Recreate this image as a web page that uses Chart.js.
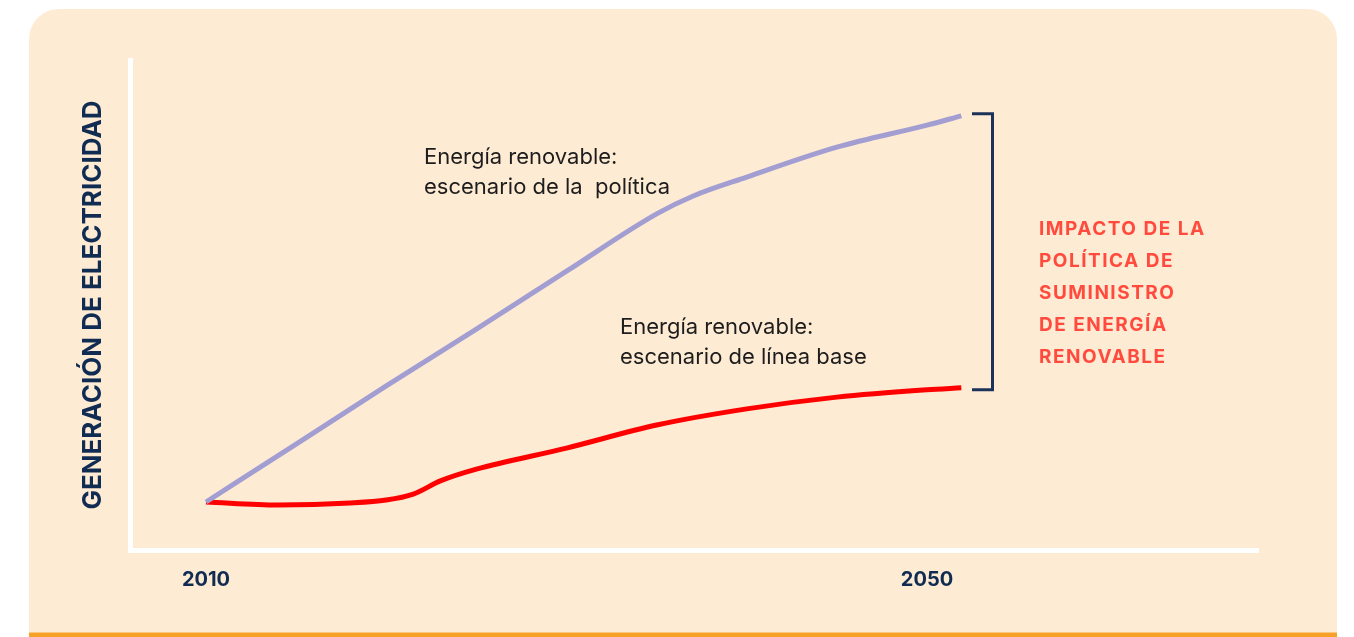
<!DOCTYPE html>
<html>
<head>
<meta charset="utf-8">
<script src="https://cdn.jsdelivr.net/npm/chart.js@4/dist/chart.umd.min.js"></script>
<style>
  html, body { margin: 0; padding: 0; background: #ffffff; }
  canvas { display: block; }
</style>
</head>
<body>
<canvas id="c" width="1354" height="637"></canvas>
<script>
// ---- data ----
const policyYears    = [2010, 2015, 2020, 2025, 2030, 2035, 2037, 2040, 2045, 2050, 2051.9];
const policyValues   = [9.8, 21.6, 33.5, 45.1, 56.9, 68.6, 72.2, 76.1, 82.2, 86.7, 88.6];
const baselineYears  = [2010, 2014, 2018, 2020, 2021.5, 2023, 2025, 2030, 2035, 2040, 2045, 2050, 2051.9];
const baselineValues = [9.8, 9.2, 9.6, 10.2, 11.4, 14.1, 16.5, 20.8, 25.5, 28.8, 31.2, 32.7, 33.1];
const tickYears      = [2010, 2050];
const yAxisTitle     = 'GENERACIÓN DE ELECTRICIDAD';
const policyLabel    = ['Energía renovable:', 'escenario de la  política'];
const baselineLabel  = ['Energía renovable:', 'escenario de línea base'];
const impactLabel    = ['IMPACTO DE LA', 'POLÍTICA DE', 'SUMINISTRO', 'DE ENERGÍA', 'RENOVABLE'];

const NAVY = '#112c52';
const PANEL = '#feebd4';

const panelPlugin = {
  id: 'panel',
  beforeDraw(chart) {
    const ctx = chart.ctx;
    ctx.save();
    ctx.fillStyle = '#ffffff';
    ctx.fillRect(0, 0, chart.width, chart.height);
    const x0 = 29, y0 = 9, x1 = 1337, y1 = 637, r = 30;
    ctx.beginPath();
    ctx.moveTo(x0, y1);
    ctx.lineTo(x0, y0 + r);
    ctx.arcTo(x0, y0, x0 + r, y0, r);
    ctx.lineTo(x1 - r, y0);
    ctx.arcTo(x1, y0, x1, y0 + r, r);
    ctx.lineTo(x1, y1);
    ctx.closePath();
    ctx.fillStyle = PANEL;
    ctx.fill();
    ctx.fillStyle = '#f7a226';
    ctx.fillRect(x0, 632.5, x1 - x0, 5);
    ctx.restore();
  }
};

const annotPlugin = {
  id: 'annot',
  afterDatasetsDraw(chart) {
    const ctx = chart.ctx;
    const ys = chart.scales.y;
    ctx.save();
    // series labels
    ctx.fillStyle = '#1d1d1d';
    ctx.font = '400 22px Inter, "Noto Sans", sans-serif';
    ctx.textBaseline = 'alphabetic';
    ctx.textAlign = 'left';
    policyLabel.forEach((t, i) => ctx.fillText(t, 424, 164 + i * 30));
    baselineLabel.forEach((t, i) => ctx.fillText(t, 620, 334 + i * 30));

    // bracket
    const topY = ys.getPixelForValue(policyValues[policyValues.length - 1]) - 2;
    const botY = ys.getPixelForValue(baselineValues[baselineValues.length - 1]) + 2;
    const bx = 992.5;
    ctx.strokeStyle = '#1b3358';
    ctx.lineWidth = 3;
    ctx.lineJoin = 'miter';
    ctx.beginPath();
    ctx.moveTo(972, topY);
    ctx.lineTo(bx, topY);
    ctx.lineTo(bx, botY);
    ctx.lineTo(972, botY);
    ctx.stroke();

    // impact text
    ctx.fillStyle = '#ff4a3d';
    ctx.font = '700 19px Inter, "Noto Sans", sans-serif';
    try { ctx.letterSpacing = '1.5px'; } catch (e) {}
    impactLabel.forEach((t, i) => ctx.fillText(t, 1039, 235 + i * 32));
    ctx.restore();
  }
};

new Chart(document.getElementById('c'), {
  type: 'line',
  data: {
    datasets: [
      {
        label: 'policy',
        data: policyYears.map((x, i) => ({ x, y: policyValues[i] })),
        borderColor: '#a39ed2',
        borderWidth: 5,
        pointRadius: 0,
        cubicInterpolationMode: 'monotone',
        fill: false
      },
      {
        label: 'baseline',
        data: baselineYears.map((x, i) => ({ x, y: baselineValues[i] })),
        borderColor: '#ff0000',
        borderWidth: 5,
        pointRadius: 0,
        cubicInterpolationMode: 'monotone',
        fill: false
      }
    ]
  },
  options: {
    responsive: false,
    animation: false,
    devicePixelRatio: 1,
    layout: { padding: { left: 0, right: 96, top: 60, bottom: 37 } },
    plugins: { legend: { display: false }, tooltip: { enabled: false } },
    scales: {
      x: {
        type: 'linear',
        min: 2005.784,
        max: 2068.36,
        grid: { display: true, color: 'rgba(0,0,0,0)', drawTicks: false },
        border: { display: true, color: '#ffffff', width: 5 },
        afterBuildTicks: s => { s.ticks = tickYears.map(v => ({ value: v })); },
        afterFit: s => { s.height = 50; },
        ticks: {
          autoSkip: false,
          maxRotation: 0,
          padding: 18,
          color: NAVY,
          font: { family: 'Inter', size: 20, weight: '700' },
          callback: v => String(v)
        }
      },
      y: {
        min: 0,
        max: 100,
        grid: { display: true, color: 'rgba(0,0,0,0)', drawTicks: false },
        border: { display: true, color: '#ffffff', width: 5 },
        afterFit: s => { s.width = 130; },
        ticks: { display: false },
        title: {
          display: true,
          text: yAxisTitle,
          color: NAVY,
          font: { family: 'Inter', size: 26, weight: '700', lineHeight: 1.2 },
          padding: { top: 77.4, bottom: 0 }
        }
      }
    }
  },
  plugins: [panelPlugin, annotPlugin]
});
</script>
</body>
</html>
